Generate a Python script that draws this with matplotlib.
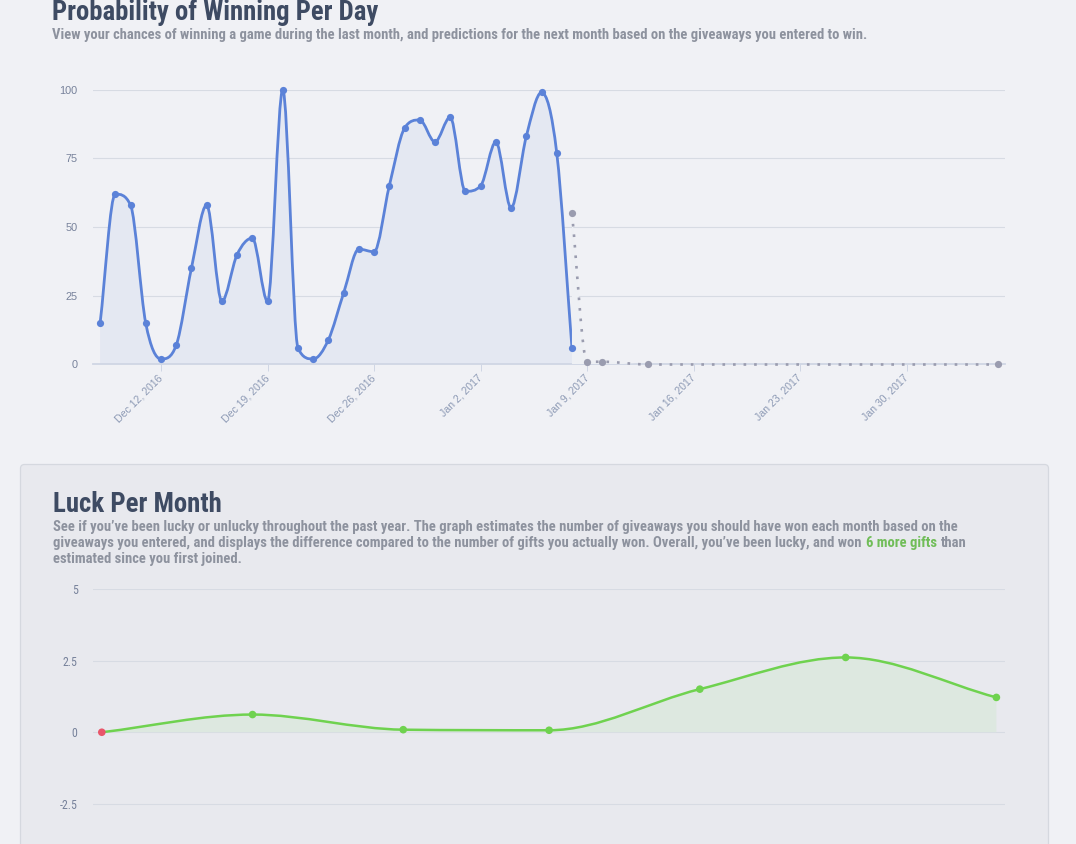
import matplotlib
matplotlib.use('Agg')
import matplotlib.pyplot as plt
import matplotlib.dates as mdates
from matplotlib.path import Path
from matplotlib.patches import PathPatch, FancyBboxPatch
from matplotlib.transforms import IdentityTransform
from matplotlib import font_manager
import numpy as np
import datetime as dt

# ---------------- data ----------------
prob_start = '2016-12-08'
win_prob = [15, 62, 58, 15, 2, 7, 35, 58, 23, 40, 46, 23, 100, 6, 2, 9, 26, 42, 41,
            65, 86, 89, 81, 90, 63, 65, 81, 57, 83, 99, 77, 6]
pred_dates = ['2017-01-08', '2017-01-09', '2017-01-10', '2017-01-13', '2017-02-05']
pred_prob = [55, 1, 1, 0, 0]
tick_dates = ['2016-12-12', '2016-12-19', '2016-12-26', '2017-01-02',
              '2017-01-09', '2017-01-16', '2017-01-23', '2017-01-30']
tick_labels = ['Dec 12, 2016', 'Dec 19, 2016', 'Dec 26, 2016', 'Jan 2, 2017',
               'Jan 9, 2017', 'Jan 16, 2017', 'Jan 23, 2017', 'Jan 30, 2017']
prob_yticks = [0, 25, 50, 75, 100]

luck_months = ['2016-07-01', '2016-08-01', '2016-09-01', '2016-10-01',
               '2016-11-01', '2016-12-01', '2017-01-01']
luck_values = [0, 0.62, 0.09, 0.07, 1.51, 2.62, 1.22]
luck_yticks = [-2.5, 0, 2.5, 5]
luck_yticklabels = ['-2.5', '0', '2.5', '5']

title1 = 'Probability of Winning Per Day'
sub1 = ('View your chances of winning a game during the last month, and predictions '
        'for the next month based on the giveaways you entered to win.')
title2 = 'Luck Per Month'
desc_l1 = ('See if you\u2019ve been lucky or unlucky throughout the past year. The graph estimates '
           'the number of giveaways you should have won each month based on the')
desc_l2a = ('giveaways you entered, and displays the difference compared to the number of gifts '
            'you actually won. Overall, you\u2019ve been lucky, and won')
desc_l2b = '6 more gifts'
desc_l2c = 'than'
desc_l3 = 'estimated since you first joined.'

# ---------------- style ----------------
W, H = 1076, 844
BG = '#f0f1f5'
PANEL = '#e8e9ee'
PANEL_EDGE = '#d5d8df'
TITLE_C = '#3e4b63'
DESC_C = '#8d929e'
GREEN_TXT = '#70bd58'
BLUE = '#5b82d8'
BLUE_FILL = '#e4e8f2'
GREY = '#9a9caf'
GREEN = '#6fd24f'
GREEN_FILL = '#dde8e0'
RED = '#e9566a'
GRID = '#d7dbe3'
AXIS = '#cfd6e4'
TICK_C = '#76819a'
XTICK_C = '#8d9ab5'

names = {f.name for f in font_manager.fontManager.ttflist}
NARROW = 'Roboto'
for cand in ['Liberation Sans Narrow', 'Roboto Condensed', 'Open Sans Condensed']:
    if cand in names:
        NARROW = cand
        break
ARIAL = 'Liberation Sans' if 'Liberation Sans' in names else 'DejaVu Sans'

fig = plt.figure(figsize=(W / 100, H / 100), dpi=100, facecolor=BG)


def px_axes(left, top, right, bottom):
    return fig.add_axes([left / W, 1 - bottom / H, (right - left) / W, (bottom - top) / H])


def d2n(s):
    return mdates.date2num(dt.datetime.strptime(s, '%Y-%m-%d'))


def monotone_path(xs, ys):
    """Monotone cubic (Fritsch-Carlson) bezier, as Chart.js 'monotone' mode."""
    x = np.asarray(xs, float); y = np.asarray(ys, float)
    n = len(x)
    d = np.diff(y) / np.diff(x)
    m = np.zeros(n)
    m[0] = d[0]; m[-1] = d[-1]
    for i in range(1, n - 1):
        m[i] = 0.0 if d[i - 1] * d[i] <= 0 else (d[i - 1] + d[i]) / 2
    for i in range(n - 1):
        if d[i] == 0:
            m[i] = m[i + 1] = 0.0
            continue
        a = m[i] / d[i]; b = m[i + 1] / d[i]
        sq = a * a + b * b
        if sq <= 9:
            continue
        tau = 3 / np.sqrt(sq)
        m[i] = a * tau * d[i]; m[i + 1] = b * tau * d[i]
    verts = [(x[0], y[0])]; codes = [Path.MOVETO]
    for i in range(n - 1):
        dx = (x[i + 1] - x[i]) / 3
        verts += [(x[i] + dx, y[i] + dx * m[i]), (x[i + 1] - dx, y[i + 1] - dx * m[i + 1]),
                  (x[i + 1], y[i + 1])]
        codes += [Path.CURVE4] * 3
    return np.array(verts), codes


def draw_series(ax, xs, ys, color, lw, fill=None, ls='-', z=3, clip=True):
    V, codes = monotone_path(xs, ys)
    if fill is not None:
        fv = np.vstack([V, [[xs[-1], 0], [xs[0], 0], [xs[0], 0]]])
        fc = codes + [Path.LINETO, Path.LINETO, Path.CLOSEPOLY]
        ax.add_patch(PathPatch(Path(fv, fc), facecolor=fill, edgecolor='none', zorder=z - 1))
    p = PathPatch(Path(V, codes), facecolor='none', edgecolor=color, lw=lw,
                  linestyle=ls, zorder=z, capstyle='butt')
    p.set_clip_on(clip)
    ax.add_patch(p)


# ---------------- panel background for second chart ----------------
panel = FancyBboxPatch((20.5, -60), 1028, 844 - 464.5 + 60,
                       boxstyle='round,pad=0,rounding_size=4',
                       transform=IdentityTransform(), facecolor=PANEL,
                       edgecolor=PANEL_EDGE, lw=0.9, zorder=-5)
fig.add_artist(panel)

# ---------------- top chart ----------------
ax1 = px_axes(93, 89.7, 1005, 364.5)
ax1.set_facecolor('none')
x0 = d2n(prob_start)
ax1.set_xlim(x0 - 0.466, x0 + 59.45)
ax1.set_ylim(0, 100)
prob_x = x0 + np.arange(len(win_prob))
pred_x = np.array([d2n(s) for s in pred_dates])

draw_series(ax1, pred_x, pred_prob, GREY, 1.9, fill='#eef0f4', ls=(0, (1, 3)), z=8,
            clip=False)
ax1.plot(pred_x, pred_prob, 'o', ms=5.2, color=GREY, zorder=9, mec='none', clip_on=False)
draw_series(ax1, prob_x, win_prob, BLUE, 2.0, fill=BLUE_FILL, z=5)
ax1.plot(prob_x, win_prob, 'o', ms=5.2, color=BLUE, zorder=10, mec='none', clip_on=False)

ax1.set_yticks(prob_yticks)
ax1.set_yticklabels([str(v) for v in prob_yticks])
ax1.set_xticks([d2n(s) for s in tick_dates])
ax1.set_xticklabels(tick_labels)
ax1.tick_params(axis='y', length=0, pad=11, labelsize=7.8, labelcolor=TICK_C)
ax1.tick_params(axis='x', length=5, width=0.7, color=AXIS, pad=3.5, labelsize=7.6,
                labelcolor=XTICK_C)
for lab in ax1.get_yticklabels() + ax1.get_xticklabels():
    lab.set_fontfamily(ARIAL)
for lab in ax1.get_xticklabels():
    lab.set_rotation(45)
    lab.set_ha('right')
    lab.set_va('center')
    lab.set_rotation_mode('anchor')
ax1.grid(axis='y', color=GRID, lw=0.8, zorder=0)
ax1.set_axisbelow(True)
for s in ['top', 'right', 'left']:
    ax1.spines[s].set_visible(False)
ax1.spines['bottom'].set_color(AXIS)
ax1.spines['bottom'].set_linewidth(1.3)
ax1.spines['bottom'].set_zorder(6)

# ---------------- bottom chart ----------------
ax2 = px_axes(93, 589.5, 1005, 875)
ax2.set_facecolor('none')
ax2.set_zorder(2)
lx = np.array([d2n(s) for s in luck_months])
ax2.set_xlim(lx[0] - 1.81, lx[-1] + 1.77)
ax2.set_ylim(-5, 5)
draw_series(ax2, lx, luck_values, GREEN, 1.8, fill=GREEN_FILL, z=3)
pt_colors = [RED if v <= 0 else GREEN for v in luck_values]
ax2.scatter(lx, luck_values, s=30, c=pt_colors, zorder=5, edgecolors='none')
ax2.set_yticks(luck_yticks)
ax2.set_yticklabels(luck_yticklabels)
ax2.set_xticks([])
ax2.tick_params(axis='y', length=0, pad=11, labelsize=8.6, labelcolor=TICK_C)
for lab in ax2.get_yticklabels():
    lab.set_fontfamily(NARROW)
ax2.grid(axis='y', color=GRID, lw=0.8, zorder=0)
ax2.set_axisbelow(True)
for s in ax2.spines.values():
    s.set_visible(False)

# ---------------- texts ----------------
fig.canvas.draw()
rend = fig.canvas.get_renderer()


def put(x, y, s, size, color, weight='bold', family=NARROW):
    return fig.text(x / W, 1 - y / H, s, fontsize=size, color=color, fontweight=weight,
                    family=family, ha='left', va='baseline')


def width(t):
    return t.get_window_extent(rend).width


def fit(t, target_w):
    t.set_fontsize(t.get_fontsize() * target_w / width(t))
    return t.get_fontsize()


t = put(52, 20, title1, 17, TITLE_C)
fit(t, 328)
t = put(52, 39.5, sub1, 9, DESC_C)
fit(t, 819)
t = put(53, 511.5, title2, 17, TITLE_C)
fit(t, 170)
t = put(53, 531, desc_l1, 9, DESC_C)
dsize = fit(t, 909)

# second description line laid out piece by piece
ta = put(53, 547, desc_l2a, dsize, DESC_C)
tw = put(0, 0, 'a a', dsize, DESC_C); tn = put(0, 0, 'aa', dsize, DESC_C)
space = width(tw) - width(tn) + 1.0
tw.remove(); tn.remove()
xb = 53 + width(ta) + space
tb = put(xb, 547, desc_l2b, dsize, GREEN_TXT)
xc = xb + width(tb) + space
put(xc, 547, desc_l2c, dsize, DESC_C)
put(53, 563, desc_l3, dsize, DESC_C)

fig.savefig('out.png', dpi=100, facecolor=BG)
